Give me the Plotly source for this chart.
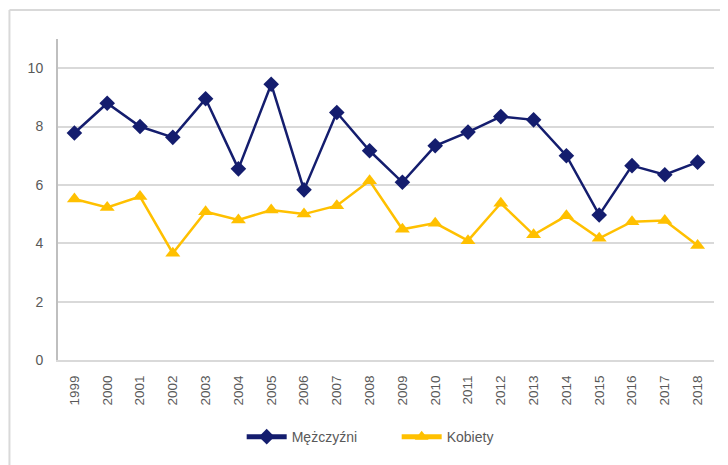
import plotly.graph_objects as go

years = [str(y) for y in range(1999, 2019)]
men = [7.78, 8.80, 8.00, 7.63, 8.95, 6.55, 9.45, 5.83, 8.48, 7.17,
       6.09, 7.34, 7.81, 8.34, 8.23, 7.00, 4.97, 6.66, 6.35, 6.78]
women = [5.52, 5.23, 5.60, 3.66, 5.08, 4.80, 5.14, 5.00, 5.29, 6.14,
         4.48, 4.69, 4.09, 5.37, 4.29, 4.94, 4.17, 4.74, 4.78, 3.92]

NAVY = '#141d6e'
GOLD = '#ffc000'
TEXT = '#595959'
GRID = '#d9d9d9'

fig = go.Figure()

fig.add_trace(go.Scatter(
    x=years, y=men, name='Mężczyźni', mode='lines+markers',
    line=dict(color=NAVY, width=2.5),
    marker=dict(symbol='diamond', size=12, color=NAVY)
))

fig.add_trace(go.Scatter(
    x=years, y=women, name='Kobiety', mode='lines+markers',
    line=dict(color=GOLD, width=2.5),
    marker=dict(symbol='triangle-up', size=13, color=GOLD)
))

# light frame around the chart area (Excel chart border)
fig.add_shape(type='line', xref='paper', yref='paper',
              x0=-0.074, x1=1.1, y0=1.0905, y1=1.0905,
              line=dict(color=GRID, width=2))
fig.add_shape(type='line', xref='paper', yref='paper',
              x0=-0.074, x1=-0.074, y0=1.0905, y1=-0.4,
              line=dict(color=GRID, width=2))

# page body has an 8px margin, so the figure is a bit smaller and shifted
fig.update_layout(
    width=720, height=457,
    margin=dict(l=50, r=14, t=31, b=105, autoexpand=False),
    paper_bgcolor='white',
    plot_bgcolor='white',
    font=dict(family='Liberation Sans', size=13, color=TEXT),
    showlegend=True,
    legend=dict(orientation='h', x=0.28, xanchor='left',
                y=-0.24, yanchor='middle', itemsizing='constant',
                entrywidth=100, entrywidthmode='pixels',
                font=dict(size=14, color=TEXT), itemwidth=40),
)

fig.update_xaxes(
    type='category', tickangle=-90, range=[-0.5, 19.5], automargin=False,
    showline=True, linecolor=GRID, linewidth=2,
    showgrid=False, ticks='', ticklabelstandoff=8,
    tickfont=dict(size=13.5, color=TEXT),
)

fig.update_yaxes(
    range=[0, 11], dtick=2, tick0=0, automargin=False,
    showline=True, linecolor='#bfbfbf', linewidth=2,
    showgrid=True, gridcolor=GRID, gridwidth=2,
    zeroline=False, ticks='', ticklabelstandoff=10,
    tickfont=dict(size=14, color=TEXT),
)

fig.write_html('out.html')
